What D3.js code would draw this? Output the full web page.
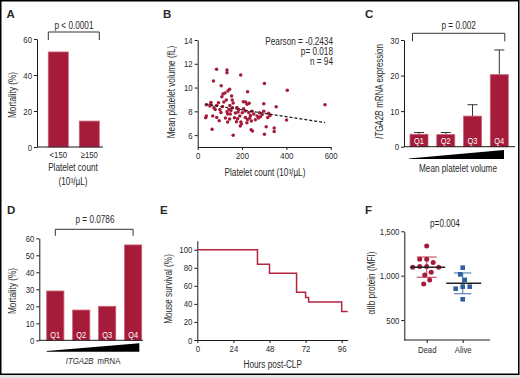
<!DOCTYPE html>
<html><head><meta charset="utf-8">
<script src="https://cdn.jsdelivr.net/npm/d3@7"></script>
<style>
html,body{margin:0;padding:0;background:#e2e2e2;}
svg{display:block;}
text{fill:#2a2a2a;}
</style></head><body>
<svg id="c" width="520" height="378"></svg>
<script>
// ---------- DATA ----------
// Panel A
const aCategories = ["<150", "\u2265150"];
const aMortality = [52.8, 14.4];
const aTicks = [0, 20, 40, 60];
// Panel B
const bPlatelet = [85,132,132,194,71,106,301,404,144,136,225,114,123,109,153,129,156,94,118,60,39,206,216,232,223,298,354,85,100,79,73,145,157,150,141,177,185,182,207,214,201,132,135,147,230,245,253,238,279,291,268,274,298,320,326,316,401,36,39,68,86,97,125,144,135,166,180,175,195,192,215,225,235,242,241,247,309,345,345,65,160,301,574,197,58,112,170,260,283,190,160,105,55,222];
const bMPV = [11.55,11.47,11.25,11.05,10.55,10.15,10.35,9.78,9.85,9.7,9.65,9.45,9.55,9.23,9.28,8.95,8.95,8.72,8.78,8.75,8.55,8.8,8.78,8.67,8.59,8.64,8.38,8.5,8.16,8.16,8.3,8.5,8.3,8.08,8.16,8.33,8.16,7.94,8.22,8.02,7.88,7.96,7.77,7.77,7.91,8.0,7.77,7.66,7.88,7.74,7.6,7.43,8.0,7.83,7.66,7.49,7.28,7.46,7.6,7.6,7.49,7.2,7.43,7.35,7.1,7.46,7.37,7.12,7.1,6.76,7.49,7.32,7.43,7.18,6.45,6.34,6.7,6.6,6.3,6.5,5.98,6.08,8.55,6.93,8.6,8.4,7.85,7.3,7.55,7.6,8.7,7.9,8.45,7.05];
const bFitX = [35, 575];
const bFitY = [8.6, 7.05];
const bXTicks = [0, 200, 400, 600];
const bYTicks = [6, 8, 10, 12, 14];
const bStats = ["Pearson = -0.2434", "p= 0.018", "n = 94"];
// Panel C
const cQuartiles = ["Q1", "Q2", "Q3", "Q4"];
const cExpression = [3.5, 3.4, 8.6, 20.25];
const cErrorTop = [4.0, 4.0, 11.8, 27.2];
const cTicks = [0, 10, 20, 30];
// Panel D
const dQuartiles = ["Q1", "Q2", "Q3", "Q4"];
const dMortality = [29, 17.8, 20, 56.1];
const dTicks = [0, 10, 20, 30, 40, 50, 60];
// Panel E
const eHours = [0, 40, 48, 66, 72, 74, 96, 100];
const eSurvival = [100, 84, 74, 53, 47, 42, 31.5, 31.5];
const eXTicks = [0, 24, 48, 72, 96];
const eYTicks = [0, 20, 40, 60, 80, 100];
// Panel F
const fGroups = ["Dead", "Alive"];
const fDead = [1335,1185,1185,1147,1102,1102,1095,1095,1038,1008,952,906];
const fAlive = [1090,1015,952,876,853,876,734];
const fTicks = [500, 1000, 1500];

// ---------- SETUP ----------
const RED = "#a51c3a", RED_EDGE = "#cc6077", BLUE = "#2f5f9e";
const cv = document.createElement("canvas").getContext("2d");
cv.font = '10px "Liberation Sans Narrow", monospace';
const w1 = cv.measureText("Platelet count").width;
cv.font = '10px monospace';
const w2 = cv.measureText("Platelet count").width;
const narrowOK = Math.abs(w1 - w2) > 0.5;
const FONT = narrowOK ? '"Liberation Sans Narrow", sans-serif' : '"Liberation Sans", Arial, sans-serif';
const svg = d3.select("#c");
svg.append("rect").attr("x", 0.75).attr("y", 0.75).attr("width", 518).attr("height", 373.5)
  .attr("fill", "#fff").attr("stroke", "#000").attr("stroke-width", 1.5);
const root = svg.append("g").style("font-family", FONT);

function txt(x, y, s, o = {}) {
  const t = root.append("text").attr("x", x).attr("y", y)
    .attr("text-anchor", o.anchor || "middle")
    .style("font-size", (o.size || 10) + "px")
    .text(s);
  if (o.bold) t.style("font-weight", "bold").style("font-family", '"Liberation Sans", Arial, sans-serif').classed("nofit", true);
  if (o.italic) t.style("font-style", "italic");
  if (o.fill) t.style("fill", o.fill);
  return t;
}
function styleAxis(g) {
  g.attr("font-family", null).attr("font-size", null);
  g.selectAll("text").style("font-size", "9.5px");
  g.selectAll("path,line").attr("stroke", "#1a1a1a");
}
function hline(x1, x2, y, col = "#1a1a1a", w = 1) {
  root.append("line").attr("x1", x1).attr("x2", x2).attr("y1", y).attr("y2", y).attr("stroke", col).attr("stroke-width", w);
}
function bracket(x1, x2, y, drop) {
  root.append("path").attr("d", `M${x1},${y + drop}V${y}H${x2}V${y + drop}`).attr("fill", "none").attr("stroke", "#333").attr("stroke-width", 1);
}
// rotated gene-name label: italic piece followed by plain piece, centred at (cx, cy)
function geneLabel(cx, cy, gene, rest, size) {
  const t = root.append("text")
    .attr("transform", `translate(${cx},${cy}) rotate(-90)`)
    .attr("text-anchor", "middle").style("font-size", size + "px");
  t.append("tspan").style("font-style", "italic").text(gene);
  t.append("tspan").attr("dx", 3.5).text(rest);
}
function vtxt(x, y, s) {
  root.append("text").attr("transform", `translate(${x},${y}) rotate(-90)`)
    .attr("text-anchor", "middle").style("font-size", "10px").text(s);
}

// ---------- PANEL A ----------
txt(6.5, 17.5, "A", { size: 11.5, bold: true, anchor: "start" });
{
  const x = d3.scaleBand().domain(aCategories).range([48.3, 99.3]).paddingInner(0.355);
  const y = d3.scaleLinear().domain([0, 60]).range([147, 39]);
  root.selectAll(".barA").data(aCategories).join("rect")
    .attr("x", d => x(d)).attr("width", x.bandwidth())
    .attr("y", (d, i) => y(aMortality[i])).attr("height", (d, i) => y(0) - y(aMortality[i]))
    .attr("fill", RED).attr("stroke", RED_EDGE).attr("stroke-width", 0.8);
  const ga = root.append("g").attr("transform", "translate(37,0)")
    .call(d3.axisLeft(y).tickValues(aTicks).tickSize(3).tickPadding(2).tickSizeOuter(0));
  styleAxis(ga);
  hline(37, 103, 147);
  aCategories.forEach(c => txt(x(c) + x.bandwidth() / 2, 158, c, { size: 9.5 }));
  txt(73, 171, "Platelet count");
  txt(73, 184.5, "(10\u00b3/\u00b5L)");
  vtxt(16, 95, "Mortality (%)");
  bracket(x(aCategories[0]), x(aCategories[1]) + x.bandwidth(), 32, 8);
  txt(74, 28.5, "p < 0.0001");
}

// ---------- PANEL B ----------
txt(163, 17.5, "B", { size: 11.5, bold: true, anchor: "start" });
{
  const x = d3.scaleLinear().domain([0, 600]).range([197.7, 330.7]);
  const y = d3.scaleLinear().domain([5, 14]).range([147, 40]);
  const gx = root.append("g").attr("transform", "translate(0,147)")
    .call(d3.axisBottom(x).tickValues(bXTicks).tickSize(3).tickPadding(2).tickSizeOuter(0));
  styleAxis(gx);
  const gy = root.append("g").attr("transform", "translate(197.7,0)")
    .call(d3.axisLeft(y).tickValues(bYTicks).tickSize(3).tickPadding(2).tickSizeOuter(0));
  styleAxis(gy);
  root.selectAll(".dotB").data(bPlatelet).join("circle")
    .attr("cx", d => x(d)).attr("cy", (d, i) => y(bMPV[i])).attr("r", 1.75).attr("fill", RED);
  root.append("line").attr("x1", x(bFitX[0])).attr("x2", x(bFitX[1]))
    .attr("y1", y(bFitY[0])).attr("y2", y(bFitY[1]))
    .attr("stroke", "#1a1a1a").attr("stroke-width", 1.2).attr("stroke-dasharray", "3,2");
  bStats.forEach((s, i) => txt(333, 45 + i * 10, s, { anchor: "end" }));
  txt(265, 175.5, "Platelet count (10\u00b3/\u00b5L)");
  vtxt(175, 92, "Mean platelet volume (fL)");
}

// ---------- PANEL C ----------
txt(365, 17.5, "C", { size: 11.5, bold: true, anchor: "start" });
{
  const x = d3.scaleBand().domain(cQuartiles).range([410, 508.3]).paddingInner(0.3275);
  const y = d3.scaleLinear().domain([0, 30]).range([146.7, 40]);
  const bw = x.bandwidth();
  cQuartiles.forEach((q, i) => {
    const cx = x(q) + bw / 2;
    root.append("line").attr("x1", cx).attr("x2", cx).attr("y1", y(cExpression[i])).attr("y2", y(cErrorTop[i])).attr("stroke", "#333").attr("stroke-width", 1);
    hline(cx - 5, cx + 5, y(cErrorTop[i]), "#333");
  });
  root.selectAll(".barC").data(cQuartiles).join("rect")
    .attr("x", d => x(d)).attr("width", bw)
    .attr("y", (d, i) => y(cExpression[i])).attr("height", (d, i) => y(0) - y(cExpression[i]))
    .attr("fill", RED).attr("stroke", RED_EDGE).attr("stroke-width", 0.8);
  cQuartiles.forEach(q => txt(x(q) + bw / 2, 144, q, { size: 9, fill: "#fff" }));
  const gy = root.append("g").attr("transform", "translate(404,0)")
    .call(d3.axisLeft(y).tickValues(cTicks).tickSize(3).tickPadding(2).tickSizeOuter(0));
  styleAxis(gy);
  hline(404, 515, 146.7);
  root.append("path").attr("d", "M409,158.5L504,150V159H409Z").attr("fill", "#000");
  bracket(x(cQuartiles[0]) + 2.5, x(cQuartiles[3]) + bw - 3.5, 33.3, 8);
  txt(458.7, 29, "p = 0.002");
  txt(458, 171.5, "Mean platelet volume");
  geneLabel(383, 91.5, "ITGA2B", "mRNA expression", 10);
}

// ---------- PANEL D ----------
txt(7, 213.5, "D", { size: 11.5, bold: true, anchor: "start" });
{
  const x = d3.scaleBand().domain(dQuartiles).range([46.7, 141.7]).paddingInner(0.337);
  const y = d3.scaleLinear().domain([0, 60]).range([340.3, 238.3]);
  const bw = x.bandwidth();
  root.selectAll(".barD").data(dQuartiles).join("rect")
    .attr("x", d => x(d)).attr("width", bw)
    .attr("y", (d, i) => y(dMortality[i])).attr("height", (d, i) => y(0) - y(dMortality[i]))
    .attr("fill", RED).attr("stroke", RED_EDGE).attr("stroke-width", 0.8);
  dQuartiles.forEach(q => txt(x(q) + bw / 2, 337.8, q, { size: 9, fill: "#fff" }));
  const gy = root.append("g").attr("transform", "translate(39.3,0)")
    .call(d3.axisLeft(y).tickValues(dTicks).tickSize(3).tickPadding(2).tickSizeOuter(0));
  styleAxis(gy);
  hline(39.3, 143, 340.3);
  root.append("path").attr("d", "M46.7,351L139.3,343.3V351.7H46.7Z").attr("fill", "#000");
  bracket(x(dQuartiles[0]) + bw / 2, x(dQuartiles[3]) + bw / 2, 229.3, 6.5);
  txt(95, 223.3, "p = 0.0786");
  txt(93.5, 364, "ITGA2B", { anchor: "end", italic: true, size: 9.5 });
  txt(97.5, 364, "mRNA", { anchor: "start", size: 9.5 });
  vtxt(16, 291, "Mortality (%)");
}

// ---------- PANEL E ----------
txt(160, 213.5, "E", { size: 11.5, bold: true, anchor: "start" });
{
  const x = d3.scaleLinear().domain([0, 100]).range([197.3, 347.7]);
  const y = d3.scaleLinear().domain([0, 110]).range([340, 240.7]);
  const gx = root.append("g").attr("transform", "translate(0,340)")
    .call(d3.axisBottom(x).tickValues(eXTicks).tickSize(3).tickPadding(2).tickSizeOuter(0));
  styleAxis(gx);
  const gy = root.append("g").attr("transform", "translate(197.3,0)")
    .call(d3.axisLeft(y).tickValues(eYTicks).tickSize(3).tickPadding(2).tickSizeOuter(0));
  styleAxis(gy);
  const line = d3.line().x(d => x(d[0])).y(d => y(d[1])).curve(d3.curveStepAfter);
  root.append("path").attr("d", line(eHours.map((h, i) => [h, eSurvival[i]])))
    .attr("fill", "none").attr("stroke", "#b3243f").attr("stroke-width", 1.5);
  txt(272.7, 368, "Hours post-CLP");
  vtxt(172, 289, "Mouse survival (%)");
}

// ---------- PANEL F ----------
txt(365, 213.5, "F", { size: 11.5, bold: true, anchor: "start" });
{
  const y = d3.scaleLinear().domain([275, 1500]).range([340, 231.3]);
  const x = d3.scalePoint().domain(fGroups).range([426.7, 462.7]);
  const gy = root.append("g").attr("transform", "translate(404.3,0)")
    .call(d3.axisLeft(y).tickValues(fTicks).tickSize(3).tickPadding(2).tickSizeOuter(0));
  styleAxis(gy);
  const gx = root.append("g").attr("transform", "translate(0,340)")
    .call(d3.axisBottom(x).tickSize(3).tickPadding(3).tickSizeOuter(0));
  styleAxis(gx);
  gx.select(".domain").remove();
  hline(404.3, 490, 340);
  function swarm(vals, cx, minD) {
    const placed = [];
    vals.forEach(v => {
      const yy = y(v);
      let bx = cx;
      for (let k = 0; k < 400; k++) {
        const off = (k % 2 === 1 ? -1 : 1) * Math.ceil(k / 2) * 0.5;
        const xx = cx + off;
        if (placed.every(p => Math.hypot(p.x - xx, p.y - yy) >= minD)) { bx = xx; break; }
      }
      placed.push({ x: bx, y: yy, v });
    });
    return placed;
  }
  const groups = [
    { name: "Dead", vals: fDead, col: RED, sd: "#c9566c", half: 17.5, whisk: 10 },
    { name: "Alive", vals: fAlive, col: BLUE, sd: "#5f83ba", half: 17.5, whisk: 8.7 }
  ];
  groups.forEach(g => {
    const cx = x(g.name);
    const m = d3.mean(g.vals), s = d3.deviation(g.vals);
    const pts = swarm(g.vals, cx, 7);
    root.append("line").attr("x1", cx).attr("x2", cx).attr("y1", y(m + s)).attr("y2", y(m - s)).attr("stroke", g.sd).attr("stroke-width", 1.2);
    hline(cx - g.whisk, cx + g.whisk, y(m + s), g.sd, 1.2);
    hline(cx - g.whisk, cx + g.whisk, y(m - s), g.sd, 1.2);
    if (g.name === "Dead") {
      root.selectAll(".dd").data(pts).join("circle").attr("cx", d => d.x).attr("cy", d => d.y).attr("r", 2.5).attr("fill", g.col);
    } else {
      root.selectAll(".da").data(pts).join("rect").attr("x", d => d.x - 2.3).attr("y", d => d.y - 2.3).attr("width", 4.6).attr("height", 4.6).attr("fill", g.col);
    }
    hline(cx - g.half + 1, cx + g.half + 1, y(m), "#222", 1.5);
  });
  txt(445, 226.7, "p=0.004");
  vtxt(375, 283, "\u03b1IIb protein (MFI)");
}

// narrow fallback
if (!narrowOK) {
  root.selectAll("text").each(function () {
    if (this.classList.contains("nofit")) return;
    const L = this.getComputedTextLength();
    if (L > 0) d3.select(this).attr("textLength", L * 0.82).attr("lengthAdjust", "spacingAndGlyphs");
  });
}
</script>
</body></html>
